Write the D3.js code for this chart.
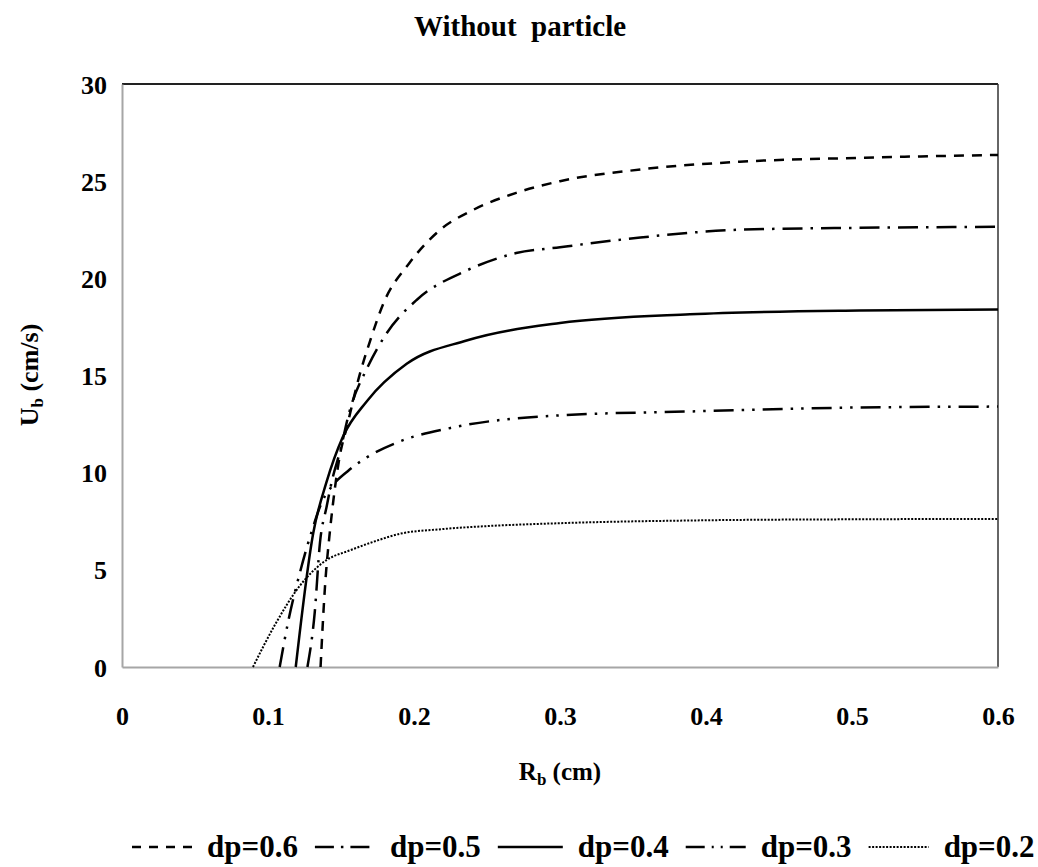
<!DOCTYPE html>
<html>
<head>
<meta charset="utf-8">
<script src="https://cdn.jsdelivr.net/npm/d3@7"></script>
<style>
  body { margin: 0; background: #fff; }
  svg { display: block; font-family: "Liberation Serif", "Times New Roman", serif; font-weight: bold; }
</style>
</head>
<body>
<div id="root"></div>
<script>
// series: bubble radius (cm) and rise velocity (cm/s) per particle size
const rb06 = [0.136, 0.139, 0.1425, 0.1445, 0.149, 0.154, 0.163, 0.170, 0.179, 0.197, 0.218, 0.240, 0.270, 0.300, 0.355, 0.423, 0.505, 0.6];
const ub06 = [0, 4.1, 7.05, 8.4, 10.8, 12.35, 15.1, 16.8, 18.7, 20.8, 22.5, 23.5, 24.4, 25.0, 25.6, 26.0, 26.2, 26.35];

const rb05 = [0.127, 0.132, 0.1356, 0.140, 0.1445, 0.149, 0.156, 0.168, 0.1815, 0.202, 0.236, 0.270, 0.300, 0.355, 0.423, 0.505, 0.6];
const ub05 = [0, 2.8, 6.4, 8.2, 9.8, 11.0, 13.2, 15.4, 17.2, 18.9, 20.4, 21.3, 21.6, 22.1, 22.5, 22.6, 22.65];

const rb04 = [0.119, 0.131, 0.140, 0.151, 0.168, 0.195, 0.236, 0.300, 0.389, 0.505, 0.6];
const ub04 = [0, 6.9, 9.5, 11.8, 13.7, 15.6, 16.8, 17.7, 18.15, 18.35, 18.4];

const rb03 = [0.108, 0.114, 0.122, 0.130, 0.137, 0.145, 0.155, 0.168, 0.190, 0.225, 0.300, 0.389, 0.5, 0.6];
const ub03 = [0, 2.4, 4.9, 7.0, 8.5, 9.4, 10.1, 10.8, 11.6, 12.3, 12.95, 13.15, 13.35, 13.4];

const rb02 = [0.0897, 0.105, 0.122, 0.140, 0.156, 0.1745, 0.190, 0.22, 0.25, 0.3, 0.4, 0.5, 0.6];
const ub02 = [0, 2.2, 4.2, 5.5, 6.0, 6.5, 6.85, 7.1, 7.25, 7.4, 7.55, 7.6, 7.62];

const seriesNames = ["dp=0.6", "dp=0.5", "dp=0.4", "dp=0.3", "dp=0.2"];
const xTicks = [0, 0.1, 0.2, 0.3, 0.4, 0.5, 0.6];
const yTicks = [0, 5, 10, 15, 20, 25, 30];

const series = [
  { name: seriesNames[0], x: rb06, y: ub06, dash: "10,8", width: 2.5 },
  { name: seriesNames[1], x: rb05, y: ub05, dash: "20,8,2.5,8", width: 2.5 },
  { name: seriesNames[2], x: rb04, y: ub04, dash: null, width: 2.5 },
  { name: seriesNames[3], x: rb03, y: ub03, dash: "20,8,2.5,8,2.5,8", width: 2.5 },
  { name: seriesNames[4], x: rb02, y: ub02, dash: "2,1.5", width: 2 },
];
const legendDash = ["9,8", "19,7,2.5,7", null, "19,7,2,7,2,7", "2,1.5"];

const width = 1038;
const height = 867;
const margin = { top: 84, right: 40, bottom: 200, left: 122 };
const plotW = 998 - margin.left;
const plotH = 667 - margin.top;

const svg = d3.select("#root").append("svg")
  .attr("width", width)
  .attr("height", height);

const x = d3.scaleLinear().domain([0, 0.6]).range([0, plotW]);
const y = d3.scaleLinear().domain([0, 30]).range([plotH, 0]);

svg.append("text")
  .attr("x", 520)
  .attr("y", 36)
  .attr("text-anchor", "middle")
  .attr("font-size", 29)
  .attr("xml:space", "preserve")
  .text("Without  particle");

const chart = svg.append("g")
  .attr("transform", `translate(${margin.left},${margin.top})`);

// plot border: dark top/right, grey axes
chart.append("line")
  .attr("x1", 0).attr("x2", plotW).attr("y1", 0).attr("y2", 0)
  .attr("stroke", "#222").attr("stroke-width", 2);
chart.append("line")
  .attr("x1", plotW).attr("x2", plotW).attr("y1", 0).attr("y2", plotH)
  .attr("stroke", "#333").attr("stroke-width", 1.5);

const xAxis = chart.append("g")
  .attr("transform", `translate(0,${plotH})`)
  .call(d3.axisBottom(x).tickValues(xTicks).tickSize(0).tickPadding(40).tickFormat(d3.format("")));
const yAxis = chart.append("g")
  .call(d3.axisLeft(y).tickValues(yTicks).tickSize(0).tickPadding(15));

[xAxis, yAxis].forEach(ax => {
  ax.select(".domain").attr("stroke", "#a6a6a6").attr("stroke-width", 2);
  ax.selectAll("text")
    .attr("font-family", "Liberation Serif, serif")
    .attr("font-weight", "bold")
    .attr("font-size", 26)
    .attr("fill", "#000");
});
yAxis.selectAll("text").attr("dy", "0.35em");

const line = d3.line()
  .x(d => x(d[0]))
  .y(d => y(d[1]))
  .curve(d3.curveMonotoneX);

chart.selectAll("path.series")
  .data(series)
  .join("path")
  .attr("class", "series")
  .attr("fill", "none")
  .attr("stroke", "#000")
  .attr("stroke-width", d => d.width)
  .attr("stroke-dasharray", d => d.dash)
  .attr("d", d => line(d.x.map((v, i) => [v, d.y[i]])));

// axis titles
const xTitle = svg.append("text")
  .attr("x", 560)
  .attr("y", 780)
  .attr("text-anchor", "middle")
  .attr("font-size", 25);
xTitle.append("tspan").text("R");
xTitle.append("tspan").attr("font-size", 17).attr("dy", 5).text("b");
xTitle.append("tspan").attr("dy", -5).text(" (cm)");

const yTitle = svg.append("text")
  .attr("transform", "translate(38,375) rotate(-90)")
  .attr("text-anchor", "middle")
  .attr("font-size", 26);
yTitle.append("tspan").text("U");
yTitle.append("tspan").attr("font-size", 17).attr("dy", 5).text("b");
yTitle.append("tspan").attr("dy", -5).text(" (cm/s)");

// legend
const legend = svg.append("g").attr("transform", "translate(132,857)");
let lx = 0;
series.forEach((s, i) => {
  const g = legend.append("g").attr("transform", `translate(${lx},0)`);
  const sampleLen = s.dash ? 60 : 65;
  g.append("line")
    .attr("x1", 0).attr("x2", sampleLen)
    .attr("y1", -10).attr("y2", -10)
    .attr("stroke", "#000")
    .attr("stroke-width", s.width)
    .attr("stroke-dasharray", legendDash[i]);
  const t = g.append("text")
    .attr("x", sampleLen + 15)
    .attr("font-size", 31)
    .text(s.name);
  lx += sampleLen + 15 + t.node().getComputedTextLength() + 17;
});
</script>
</body>
</html>
